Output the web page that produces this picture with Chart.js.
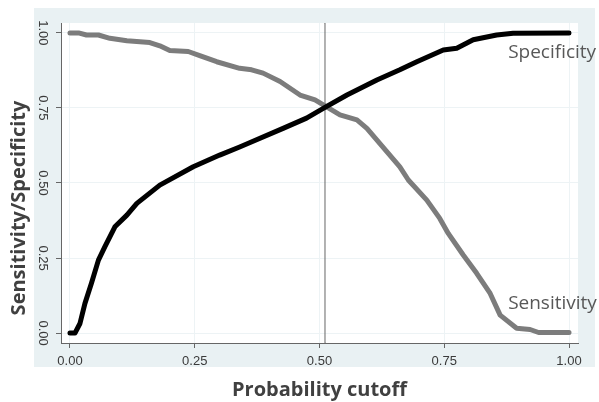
<!DOCTYPE html>
<html>
<head>
<meta charset="utf-8">
<script src="https://cdn.jsdelivr.net/npm/chart.js@4"></script>
<style>
  body { margin: 0; background: #fff; }
  canvas { display: block; }
</style>
</head>
<body>
<canvas id="grafico" width="599" height="402"></canvas>
<script>
// valores
const cutoffSpec = [0, 0.01, 0.02, 0.03, 0.043, 0.057, 0.07, 0.09, 0.114, 0.134, 0.18, 0.247, 0.30, 0.34, 0.361, 0.427, 0.474, 0.511, 0.555, 0.615, 0.661, 0.695, 0.748, 0.775, 0.808, 0.855, 0.888, 1.0];
const specificity = [0, 0, 0.032, 0.099, 0.166, 0.243, 0.288, 0.354, 0.393, 0.432, 0.493, 0.554, 0.593, 0.62, 0.635, 0.682, 0.716, 0.752, 0.793, 0.843, 0.877, 0.904, 0.943, 0.949, 0.977, 0.993, 0.999, 1.0];

const cutoffSens = [0, 0.017, 0.033, 0.057, 0.08, 0.114, 0.16, 0.18, 0.20, 0.237, 0.26, 0.294, 0.34, 0.364, 0.387, 0.421, 0.461, 0.491, 0.511, 0.541, 0.575, 0.595, 0.628, 0.661, 0.678, 0.715, 0.741, 0.758, 0.788, 0.815, 0.842, 0.862, 0.895, 0.922, 0.939, 1.0];
const sensitivity = [1.0, 1.0, 0.993, 0.993, 0.982, 0.974, 0.968, 0.957, 0.941, 0.938, 0.924, 0.904, 0.882, 0.877, 0.866, 0.838, 0.793, 0.777, 0.757, 0.727, 0.71, 0.682, 0.618, 0.554, 0.51, 0.443, 0.382, 0.332, 0.26, 0.199, 0.132, 0.06, 0.016, 0.012, 0.002, 0.002];

const tickValues = [0, 0.25, 0.5, 0.75, 1];
const corte = 0.511;
const X_MIN = -0.018, X_MAX = 1.018;
const Y_MIN = -0.033, Y_MAX = 1.033;

const tituloY = 'Sensitivity/Specificity';
const tituloX = 'Probability cutoff';

function pontos(xs, ys) {
  return xs.map((x, i) => ({ x, y: ys[i] }));
}

const fundo = {
  id: 'fundo',
  beforeDraw(chart) {
    const { ctx, chartArea: a } = chart;
    ctx.save();
    ctx.fillStyle = '#e9f1f3';
    ctx.fillRect(34, 8, 561, 359);
    ctx.fillStyle = '#fff';
    ctx.fillRect(a.left, a.top, a.right - a.left, a.bottom - a.top);
    ctx.restore();
  },
  afterDraw(chart) {
    const { ctx, scales } = chart;
    ctx.save();
    // rótulos das curvas
    ctx.font = '19px "Open Sans"';
    ctx.fillStyle = '#585858';
    ctx.textBaseline = 'alphabetic';
    ctx.fillText('Specificity', scales.x.getPixelForValue(0.878), scales.y.getPixelForValue(0.915));
    ctx.fillText('Sensitivity', scales.x.getPixelForValue(0.878), scales.y.getPixelForValue(0.081));
    // título do eixo y
    ctx.translate(19, 208);
    ctx.rotate(-Math.PI / 2);
    ctx.font = 'bold 20px "Open Sans"';
    ctx.fillStyle = '#404040';
    ctx.textAlign = 'center';
    ctx.textBaseline = 'middle';
    ctx.fillText(tituloY, 0, 0);
    ctx.restore();
  }
};

const fonteTicks = { family: '"Liberation Sans", Arial', size: 13 };

new Chart(document.getElementById('grafico'), {
  type: 'line',
  data: {
    datasets: [
      { data: pontos(cutoffSpec, specificity), borderColor: '#000', borderWidth: 5 },
      { data: pontos(cutoffSens, sensitivity), borderColor: '#7c7c7c', borderWidth: 5 },
      { data: [{ x: corte, y: Y_MIN }, { x: corte, y: Y_MAX }], borderColor: '#666', borderWidth: 1 }
    ]
  },
  options: {
    responsive: false,
    animation: false,
    layout: { padding: { top: 23, right: 21, left: 0, bottom: 0 } },
    elements: {
      point: { radius: 0 },
      line: { tension: 0, borderJoinStyle: 'round', borderCapStyle: 'round' }
    },
    plugins: { legend: { display: false }, tooltip: { enabled: false } },
    scales: {
      x: {
        type: 'linear',
        min: X_MIN, max: X_MAX,
        afterBuildTicks: s => { s.ticks = tickValues.map(v => ({ value: v })); },
        afterFit: s => { s.height = 59; },
        ticks: { font: fonteTicks, color: '#3a3a3a', padding: 6, callback: v => v.toFixed(2) },
        grid: { color: '#edf3f5', tickColor: '#666', tickLength: 5 },
        border: { color: '#666', width: 1 },
        title: {
          display: true, text: tituloX, color: '#404040',
          font: { family: '"Open Sans"', size: 20, weight: 'bold' },
          padding: { top: 0, bottom: 0 }
        }
      },
      y: {
        min: Y_MIN, max: Y_MAX,
        afterBuildTicks: s => { s.ticks = tickValues.map(v => ({ value: v })); },
        afterFit: s => { s.width = 61; },
        ticks: { font: fonteTicks, color: '#3a3a3a', padding: 1, minRotation: -90, maxRotation: -90, crossAlign: 'center', callback: v => v.toFixed(2) },
        grid: { color: '#edf3f5', tickColor: '#666', tickLength: 5 },
        border: { color: '#666', width: 1 }
      }
    }
  },
  plugins: [fundo]
});
</script>
</body>
</html>
